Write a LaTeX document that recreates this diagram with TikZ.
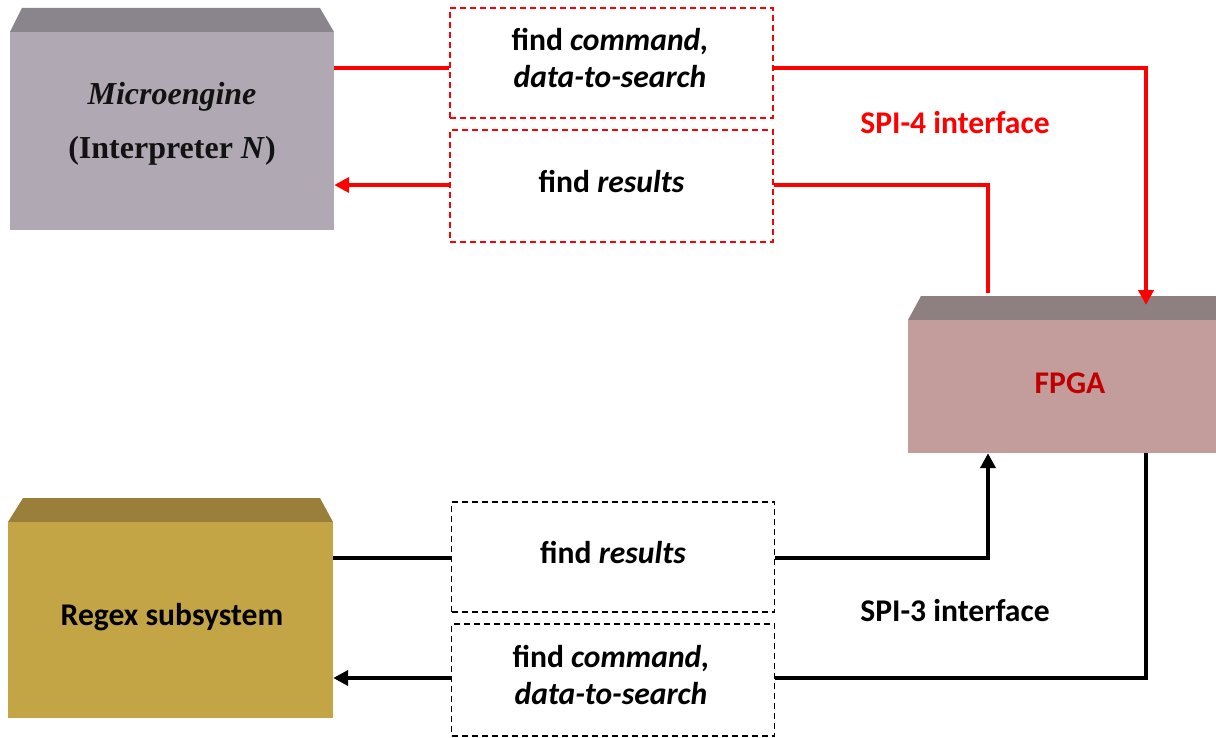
\documentclass[tikz,border=0pt]{standalone}
\usepackage{fontspec}
\setmainfont{Carlito}
\newfontfamily\timesfont{Liberation Serif}
\usetikzlibrary{arrows.meta}
\definecolor{meTop}{HTML}{8A858D}
\definecolor{meFront}{HTML}{B0A9B3}
\definecolor{fpTop}{HTML}{8E8080}
\definecolor{fpFront}{HTML}{C39C9C}
\definecolor{rxTop}{HTML}{9A7F3A}
\definecolor{rxFront}{HTML}{C4A546}
\definecolor{fpText}{HTML}{C00000}
\definecolor{linkRed}{HTML}{FF0000}
\tikzset{
  blockface/.style={draw=none, rectangle, inner sep=0pt},
  msgbox/.style={rectangle, dashed, dash pattern=on 6pt off 4pt, line width=1.4pt,
    inner sep=0pt, minimum width=323pt, minimum height=110pt},
  txt/.style={inner sep=0pt, align=center,
    font=\fontsize{31.6}{37}\selectfont\bfseries},
  link/.style={line width=3.9pt},
  tip/.style={-{Triangle[length=15pt,width=15pt]}}
}
\begin{document}
\begin{tikzpicture}[x=1pt,y=-1pt]
\useasboundingbox (0,0) rectangle (1216,738);

% Microengine block
\fill[meTop] (10,32) -- (22,8) -- (320,8) -- (334,32) -- cycle;
\node[blockface, fill=meFront, minimum width=324pt, minimum height=198pt]
  (me) at (172,131) {};
\node[inner sep=0pt, align=center, text=black!93,
  font=\timesfont\fontsize{32}{54}\selectfont\bfseries]
  (meText) at (172,124) {\textit{Microengine}\\(Interpreter \textit{N})};

% FPGA block
\fill[fpTop] (908,320) -- (921,296) -- (1216,296) -- (1216,320) -- cycle;
\node[blockface, fill=fpFront, minimum width=308pt, minimum height=133pt]
  (fpga) at (1062,386.5) {};
\node[txt, text=fpText] (fpgaText) at (1070,383) {FPGA};

% Regex subsystem block
\fill[rxTop] (8,522) -- (23,498) -- (320,498) -- (333,522) -- cycle;
\node[blockface, fill=rxFront, minimum width=325pt, minimum height=196pt]
  (rx) at (170.5,620) {};
\node[txt] (rxText) at (172,617) {Regex subsystem};

% Message boxes on the SPI-4 link
\node[msgbox, draw=linkRed] (cmdA) at (611.5,63) {};
\node[txt] (cmdAText) at (610,58) {find \textit{command,}\\\textit{data-to-search}};
\node[msgbox, draw=linkRed, minimum height=112pt] (resA) at (611.5,186) {};
\node[txt] (resAText) at (611.5,182) {find \textit{results}};

% Message boxes on the SPI-3 link
\node[msgbox, draw=black] (resB) at (613,557) {};
\node[txt] (resBText) at (613,553) {find \textit{results}};
\node[msgbox, draw=black, minimum height=112pt] (cmdB) at (613,680) {};
\node[txt] (cmdBText) at (611,675) {find \textit{command,}\\\textit{data-to-search}};

% Interface labels
\node[txt, text=linkRed] (spi4) at (955,123) {SPI-4 interface};
\node[txt] (spi3) at (955,611) {SPI-3 interface};

% SPI-4 connectors
\draw[link, linkRed] (me.east |- 0,68) -- (cmdA.west |- 0,68);
\draw[link, linkRed, tip] (cmdA.east |- 0,68) -| (1146,305) coordinate (fpIn);
\draw[link, linkRed] (988,293) coordinate (fpOut) |- (resA.east |- 0,185);
\draw[link, linkRed, tip] (resA.west |- 0,185) -- (me.east |- 0,185);

% SPI-3 connectors
\draw[link] (rx.east |- 0,558) -- (resB.west |- 0,558);
\draw[link, tip] (resB.east |- 0,558) -| (fpga.south -| 988,0);
\draw[link] (fpga.south -| 1146,0) |- (cmdB.east |- 0,678);
\draw[link, tip] (cmdB.west |- 0,678) -- (rx.east |- 0,678);
\end{tikzpicture}
\end{document}
